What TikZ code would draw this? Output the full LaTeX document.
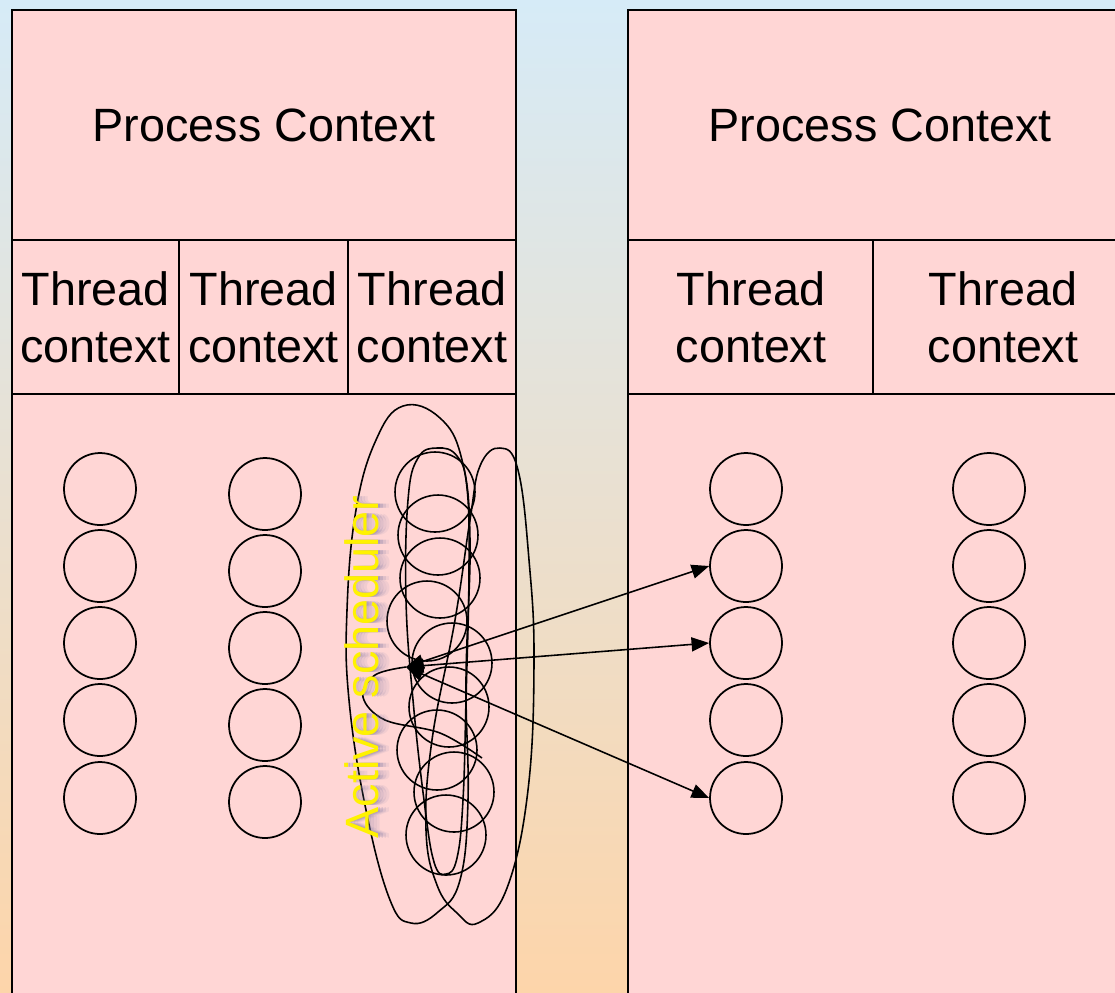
\documentclass[tikz,border=0pt]{standalone}
\usepackage{fontspec}
\setmainfont{Liberation Sans}
\usepackage{xcolor}
\usepackage{tikz}
\usetikzlibrary{positioning,calc,arrows.meta}

\definecolor{bgtop}{HTML}{D6EBF7}
\definecolor{bgmid}{HTML}{ECE1D5}
\definecolor{bgbot}{HTML}{FDD5AA}
\definecolor{procpink}{HTML}{FFD6D5}
\definecolor{glow}{HTML}{7E78A4}

\tikzset{
  boxline/.style={line width=1pt, draw=black},
  ctxtext/.style={font=\fontsize{26.6}{32.3}\selectfont, align=center, inner sep=0pt},
  thr/.style={circle, draw, line width=1pt, minimum size=1.44cm, inner sep=0pt},
  scribble/.style={line width=0.9pt},
  dispatch/.style={line width=0.9pt, {Triangle[length=10pt,width=8pt]}-{Triangle[length=10pt,width=8pt]}}
}

\begin{document}
\begin{tikzpicture}[x=0.02cm, y=-0.02cm]
        \clip (0,0) rectangle (1115,992);
        \shade[top color=bgtop, middle color=bgmid, bottom color=bgbot] (0,0) rectangle (1115,992);

        % Process 1
        \draw[boxline, fill=procpink] (12,10) rectangle (516,1010);
        \draw[boxline] (12,240) -- (516,240);
        \draw[boxline] (12,394) -- (516,394);
        \draw[boxline] (179,240) -- (179,394);
        \draw[boxline] (348,240) -- (348,394);
        \node[ctxtext] (pc1) at (264,125) {Process Context};
        \node[ctxtext] (tc1) at (95.5,317) {Thread\\context};
        \node[ctxtext] (tc2) at (263.5,317) {Thread\\context};
        \node[ctxtext] (tc3) at (432,317) {Thread\\context};
        \foreach \i/\y in {1/489,2/566,3/643,4/720,5/798} {
            \node[thr] (la\i) at (100,\y) {};
        }
        \foreach \i/\y in {1/494,2/571,3/648,4/725,5/802} {
            \node[thr] (lb\i) at (265,\y) {};
        }

        % Process 2
        \draw[boxline, fill=procpink] (628,10) rectangle (1133,1010);
        \draw[boxline] (628,240) -- (1133,240);
        \draw[boxline] (628,394) -- (1133,394);
        \draw[boxline] (873,240) -- (873,394);
        \node[ctxtext] (pc2) at (880,125) {Process Context};
        \node[ctxtext] (tc4) at (751,317) {Thread\\context};
        \node[ctxtext] (tc5) at (1003,317) {Thread\\context};
        \foreach \i/\y in {1/489,2/566,3/643,4/720,5/798} {
            \node[thr] (ra\i) at (746,\y) {};
            \node[thr] (rb\i) at (989,\y) {};
        }

        % Scheduler scribble
        \foreach \cx/\cy in {435/492,438/535,440/578,427/621,452/663,449/707,437/750,454/792,446/835} {
            \draw[scribble] (\cx,\cy) circle (40);
        }
        \draw[scribble] plot[smooth cycle, tension=0.7] coordinates {(403,406) (440,418) (462,460) (470,540) (466,680) (468,800) (460,880) (438,912) (411,923) (390,900) (366,810) (349,700) (347,610) (356,510) (376,440)};
        \draw[scribble] plot[smooth cycle, tension=0.7] coordinates {(500,448) (518,470) (529,560) (534,660) (528,790) (507,888) (478,923) (457,913) (437,885) (426,830) (432,740) (455,620) (470,520) (480,466)};
        \draw[scribble] plot[smooth cycle, tension=0.7] coordinates {(437,448) (457,456) (467,488) (469,570) (466,700) (463,800) (457,858) (446,874) (434,862) (424,800) (413,700) (406,600) (408,500) (418,458)};
        \coordinate (sched) at (406,667);
        \draw[scribble] plot[smooth, tension=0.6] coordinates {(482,758) (440,733) (385,720) (363,697) (375,675) (406,667)};

        \foreach \d/\o in {11/0.1,8/0.16,5/0.24,2/0.3} {
            \node[ctxtext, rotate=90, text=glow, opacity=\o] at (362+\d,667) {Active scheduler};
        }
        \node[ctxtext, rotate=90, text=yellow] (sch) at (362,667) {Active scheduler};

        \draw[dispatch] (sched) -- (ra2.west);
        \draw[dispatch] (sched) -- (ra3.west);
        \draw[dispatch] (sched) -- (ra5.west);
    \end{tikzpicture}
\end{document}
